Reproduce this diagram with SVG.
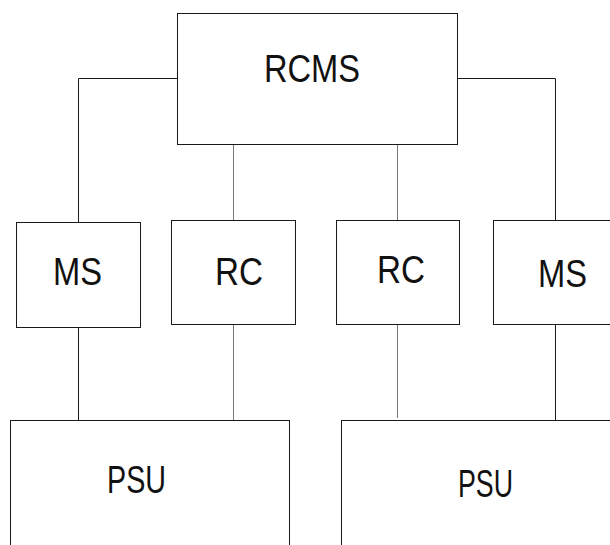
<svg xmlns="http://www.w3.org/2000/svg" width="610" height="545" viewBox="0 0 610 545">
<style>
.box{fill:#fff;stroke:#1a1a1a;stroke-width:1}
.lbl{font-family:"Liberation Sans",Arial,sans-serif;font-size:38px;fill:#111}
.c{fill:none;stroke:#1a1a1a;stroke-width:1}
.g{fill:none;stroke:#777;stroke-width:1}
</style>
<rect width="610" height="545" fill="#fff"/>
<g id="connectors">
<path class="c" d="M177.5,78.5 H78.5 V222.5"/>
<path class="g" d="M233.5,144.5 V220.5"/>
<path class="g" d="M397.5,144.5 V220.5"/>
<path class="c" d="M457.5,78.5 H555.5 V220.5"/>
<path class="c" d="M78.5,327.5 V420.5"/>
<path class="g" d="M233.5,324.5 V420.5"/>
<path class="g" d="M397.5,324.5 V418"/>
<path class="c" d="M555.5,324.5 V420.5"/>
</g>
<g id="rcms">
<rect class="box" x="177.5" y="13.5" width="280" height="131"/>
<text class="lbl" x="264" y="82" textLength="96" lengthAdjust="spacingAndGlyphs">RCMS</text>
</g>
<g id="ms1">
<rect class="box" x="16.5" y="222.5" width="124" height="105"/>
<text class="lbl" x="53" y="285" textLength="49" lengthAdjust="spacingAndGlyphs">MS</text>
</g>
<g id="rc1">
<rect class="box" x="171.5" y="220.5" width="124" height="104"/>
<text class="lbl" x="215" y="285" textLength="48" lengthAdjust="spacingAndGlyphs">RC</text>
</g>
<g id="rc2">
<rect class="box" x="336.5" y="220.5" width="123" height="104"/>
<text class="lbl" x="377" y="283" textLength="48" lengthAdjust="spacingAndGlyphs">RC</text>
</g>
<g id="ms2">
<rect class="box" x="493.5" y="220.5" width="130" height="104"/>
<text class="lbl" x="538" y="287" textLength="49" lengthAdjust="spacingAndGlyphs">MS</text>
</g>
<g id="psu1">
<rect class="box" x="10.5" y="420.5" width="279" height="140"/>
<text class="lbl" x="107" y="493" textLength="59" lengthAdjust="spacingAndGlyphs">PSU</text>
</g>
<g id="psu2">
<rect class="box" x="341.5" y="420.5" width="290" height="140"/>
<text class="lbl" x="458" y="497" textLength="55" lengthAdjust="spacingAndGlyphs">PSU</text>
</g>
</svg>
